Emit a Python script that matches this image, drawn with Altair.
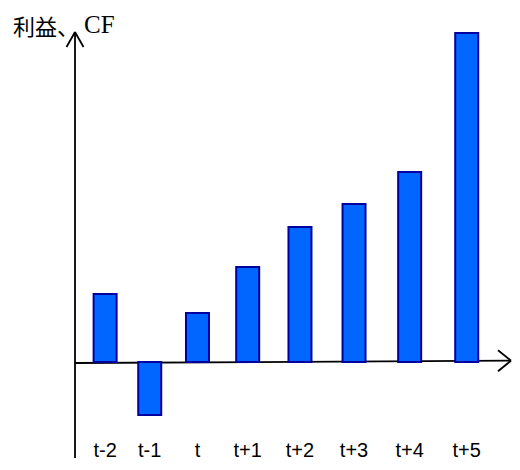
import altair as alt
import pandas as pd

# ---- data ----
periods = ["t-2", "t-1", "t", "t+1", "t+2", "t+3", "t+4", "t+5"]
offsets = [-2, -1, 0, 1, 2, 3, 4, 5]
values = [68, -53, 49, 95, 135, 158, 190, 329]
title_jp = "利益、"
title_en = "CF"

df = pd.DataFrame({"period": periods, "k": offsets, "v": values})

W, H = 504, 454
xscale = alt.Scale(type="pow", exponent=1.2, domain=[-0.721, 9.693], zero=False, nice=False)
yscale = alt.Scale(domain=[-100, 354], zero=False, nice=False)

base = alt.Chart(df).transform_calculate(pos="datum.k + 4")

bars = base.mark_bar(size=23, fill="#0066FF", stroke="#0000A0", strokeWidth=2).encode(
    x=alt.X("pos:Q", scale=xscale, axis=None),
    y=alt.Y("v:Q", scale=yscale, axis=None),
    y2=alt.datum(0),
)

labels = base.mark_text(font="Liberation Sans", fontSize=20, baseline="bottom",
                        align="center", color="black").encode(
    x=alt.X("pos:Q", scale=xscale, axis=None),
    y=alt.value(453),
    text="period:N",
)

one = alt.Chart(pd.DataFrame({"a": [0]}))

def line(x1, y1, x2, y2):
    return one.mark_rule(color="black", strokeWidth=1.8).encode(
        x=alt.value(x1), y=alt.value(y1), x2=alt.value(x2), y2=alt.value(y2))

axes = [
    line(67, 450, 67, 24),      # y axis
    line(67, 24, 58.5, 39),     # y arrow wings
    line(67, 24, 75.5, 39),
    line(67, 355, 503, 352.7),  # x axis
    line(503, 352.7, 490, 342.2),
    line(503, 352.7, 490, 363.2),
]

t1 = one.mark_text(text=title_jp, font="Noto Sans CJK JP", fontSize=22, align="left",
                   baseline="alphabetic", color="black").encode(x=alt.value(5), y=alt.value(27))
t2 = one.mark_text(text=title_en, font="Liberation Serif", fontSize=25, align="left",
                   baseline="alphabetic", color="black").encode(x=alt.value(76), y=alt.value(25))

chart = alt.layer(*axes, bars, labels, t1, t2).properties(
    width=W, height=H, padding=0, autosize=alt.AutoSizeParams(type="none")
).configure_view(stroke=None)

chart.save("out.html", embed_options={"renderer": "svg", "actions": False})
